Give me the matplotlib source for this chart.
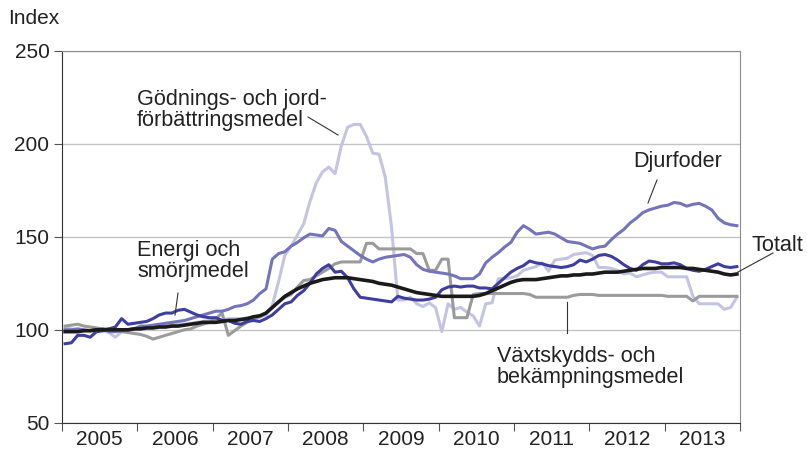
import numpy as np
import matplotlib
matplotlib.use("Agg")
import matplotlib.pyplot as plt

# Månadsindex 2005-2013 (108 månader)
years = ["2005", "2006", "2007", "2008", "2009", "2010", "2011", "2012", "2013"]

totalt = [
    99, 99, 99, 99.5, 99.5, 100, 100, 100, 100, 100, 100, 100.5,
    100.5, 101, 101, 101.5, 101.5, 102, 102, 102.5, 103, 103.5, 104, 104,
    104, 104.5, 105, 105, 105.5, 106, 107, 107.5, 109, 112, 115, 118,
    120, 122, 123.5, 125, 126, 127, 127.5, 128, 128, 128, 127.5, 127,
    126.5, 126, 125, 124.5, 124, 123, 122, 121, 120, 119.5, 119, 118.5,
    118, 118, 118, 118, 118, 118, 118.5, 119.5, 121, 122.5, 124, 125.5,
    126.5, 127, 127, 127, 127.5, 128, 128.5, 129, 129, 129.5, 129.5, 130,
    130, 130.5, 131, 131, 131, 131.5, 132, 132.5, 133, 133, 133, 133.5,
    133.5, 133.5, 133.5, 133, 133, 132.5, 132, 131.5, 131, 130, 129.5, 130,
]

energi = [
    92.5, 93, 97, 97, 96, 99, 99.5, 100.5, 101.5, 106, 103, 103.5,
    104, 104.5, 106, 108, 109, 109, 110.5, 111, 109.5, 108, 107, 106.5,
    106.5, 105, 105, 103.5, 103, 104.5, 105, 104.5, 106, 108, 111, 114,
    115, 118.5, 121, 125, 130, 133, 135, 131, 131.5, 128, 122, 117.5,
    117, 116.5, 116, 115.5, 115, 118, 117, 116.5, 116, 116, 116.5, 117.5,
    121.5, 123, 123.5, 123, 123.5, 123.5, 122.5, 122.5, 122, 125, 128, 131,
    133, 134.5, 137, 136, 135.5, 134.5, 134, 133.5, 134, 135, 137.5, 136.5,
    138, 140, 140.5, 139.5, 137.5, 135, 133, 132, 135, 137, 136.5, 135.5,
    135.5, 136, 135, 133, 132, 131.5, 132.5, 134, 135.5, 134, 133.5, 134,
]

djurfoder = [
    100, 100, 100.5, 100, 99.5, 100, 100.5, 99, 99, 99.5, 100, 100.5,
    102, 102, 102.5, 103, 103.5, 104, 104.5, 105, 106, 107, 108, 109,
    110, 110, 111, 112.5, 113, 114, 116, 119.5, 122, 138, 141, 142,
    145, 147, 149.5, 151.5, 151, 150.5, 154.5, 153.5, 147.5, 145, 142.5, 140,
    138, 136.5, 138, 139, 139.5, 140, 140.5, 139, 135, 132.5, 131.5, 131,
    130.5, 130, 129, 127.5, 127.5, 127.5, 130, 136, 139, 141.5, 144.5, 147,
    152.5, 156, 154, 151.5, 152, 152.5, 151.5, 149.5, 147.5, 147, 146.5, 145,
    143.5, 144.5, 145, 148.5, 151.5, 154, 157.5, 160, 163, 164.5, 165.5, 166.5,
    167, 168.5, 168, 166.5, 167.5, 168, 166.5, 164.5, 160, 157.5, 156.5, 156,
]

godning = [
    101, 100.5, 100, 99.5, 99.5, 99, 99.5, 98.5, 96, 99, 100, 100,
    100.5, 101, 101.5, 102, 102.5, 103, 103, 103, 103.5, 104, 104.5, 105,
    105.5, 105.5, 106, 106, 106, 106.5, 106.5, 107, 108, 113, 126, 140,
    145, 151, 157, 169, 179, 185, 187.5, 184, 199, 209, 210.5, 210.5,
    204, 195, 194.5, 182, 155, 116, 116, 117.5, 114, 112.5, 114.5, 112,
    99, 114, 111, 112, 109.5, 107.5, 102, 114, 114.5, 127.5, 127.5, 128,
    129, 132, 133, 134, 136, 131.5, 137.5, 138, 138.5, 140.5, 141, 141.5,
    140, 133.5, 133.5, 133, 132, 130, 130.5, 128.5, 129.5, 130.5, 131, 131,
    128.5, 128.5, 128.5, 128.5, 118, 114, 114, 114, 114, 111, 112, 117.5,
]

vaxtskydd = [
    102, 102.5, 103, 102, 101.5, 101, 100.5, 100.5, 100, 99, 98.5, 98,
    97.5, 96.5, 95, 96, 97, 98, 99, 100, 100.5, 102, 103, 104,
    106, 109, 97, 99.5, 102, 104, 106, 107, 109, 112, 115, 117.5,
    119, 123, 126.5, 127, 129, 131, 133, 135.5, 136.5, 136.5, 136.5, 136.5,
    146.5, 146.5, 143.5, 143.5, 143.5, 143.5, 143.5, 143.5, 141, 141, 132, 132,
    138, 138, 106.5, 106.5, 106.5, 119, 119.5, 119.5, 119.5, 119.5, 119.5, 119.5,
    119.5, 119.5, 119, 117.5, 117.5, 117.5, 117.5, 117.5, 117.5, 118.5, 119, 119,
    119, 118.5, 118.5, 118.5, 118.5, 118.5, 118.5, 118.5, 118.5, 118.5, 118.5, 118.5,
    118, 118, 118, 118, 115.5, 118, 118, 118, 118, 118, 118, 118,
]

plt.rcParams['font.family'] = ['Liberation Sans', 'DejaVu Sans']
TXT = "#222222"
FS = 15
FS_LAB = 15.6

fig = plt.figure(figsize=(8.07, 4.51), dpi=100)
ax = fig.add_axes([0.0768, 0.0627, 0.8402, 0.8243])

x = np.arange(len(totalt)) + 0.5
ax.plot(x, godning, color="#c4c4e2", lw=2.2, zorder=2)
ax.plot(x, vaxtskydd, color="#9b9b9b", lw=2.2, zorder=3)
ax.plot(x, djurfoder, color="#7474ba", lw=2.2, zorder=4)
ax.plot(x, energi, color="#3e3e9e", lw=2.2, zorder=5)
ax.plot(x, totalt, color="#1a1a1a", lw=2.6, zorder=6)

ax.set_xlim(0, 108)
ax.set_ylim(50, 250)
ax.set_yticks([50, 100, 150, 200, 250])
ax.grid(axis="y", color="#c4c4c4", lw=1.0, zorder=0)
ax.set_axisbelow(True)

ax.set_xticks(np.arange(0, 109, 12))
ax.set_xticklabels([])
ax.set_xticks(np.arange(6, 108, 12), minor=True)
ax.set_xticklabels(years, minor=True)
ax.tick_params(axis="x", which="major", length=6, direction="out", color="#555555")
ax.tick_params(axis="x", which="minor", length=0, pad=5, labelsize=FS, labelcolor=TXT)
ax.tick_params(axis="y", length=6, direction="out", color="#555555", pad=3,
               labelsize=FS, labelcolor=TXT)

for s in ["left", "bottom"]:
    ax.spines[s].set_color("#333333")
for s in ["top", "right"]:
    ax.spines[s].set_color("#8c8c8c")

fig.text(8 / 807, 1 - 18 / 451, "Index", fontsize=FS, color=TXT, va="center", ha="left")

def label(px, py, text, ha="left"):
    fig.text(px / 807, 1 - py / 451, text, fontsize=FS_LAB, color=TXT, ha=ha, va="center",
             linespacing=1.0)

def leader(x0, y0, x1, y1):
    fig.add_artist(plt.Line2D([x0 / 807, x1 / 807], [1 - y0 / 451, 1 - y1 / 451],
                              color="#333333", lw=0.8))

label(137, 110, "Gödnings- och jord-\nförbättringsmedel")
leader(308, 117, 338, 135)
label(137, 261, "Energi och\nsmörjmedel")
leader(178, 293, 175, 315)
label(633, 161, "Djurfoder")
leader(657, 180, 648, 203)
label(752, 246, "Totalt")
leader(773, 253, 738, 272)
label(497, 367, "Växtskydds- och\nbekämpningsmedel")
leader(567, 302, 567, 333)

plt.savefig("out.png", dpi=100)
plt.close()
